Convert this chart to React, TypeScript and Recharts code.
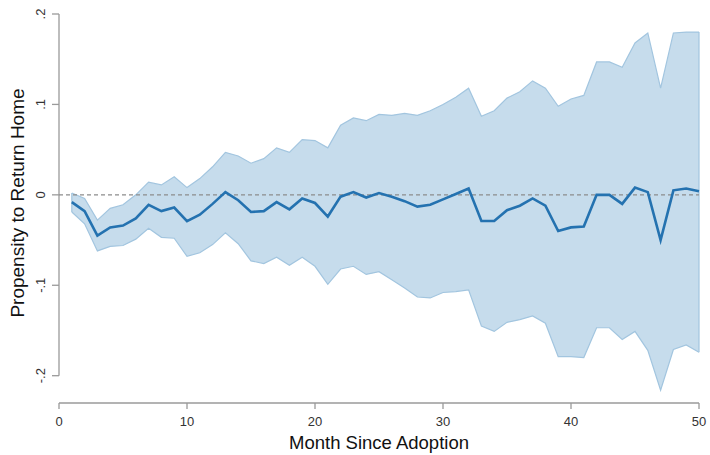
import React from 'react';
import { ComposedChart, Area, Line, XAxis, YAxis, ReferenceLine } from 'recharts';

const months = [1,2,3,4,5,6,7,8,9,10,11,12,13,14,15,16,17,18,19,20,21,22,23,24,25,26,27,28,29,30,31,32,33,34,35,36,37,38,39,40,41,42,43,44,45,46,47,48,49,50];

const estimate = [-0.008,-0.018,-0.045,-0.036,-0.034,-0.026,-0.011,-0.018,-0.014,-0.029,-0.022,-0.010,0.003,-0.006,-0.019,-0.018,-0.008,-0.016,-0.004,-0.009,-0.024,-0.002,0.003,-0.003,0.002,-0.002,-0.007,-0.013,-0.011,-0.005,0.001,0.007,-0.029,-0.029,-0.017,-0.012,-0.004,-0.012,-0.040,-0.036,-0.035,0.000,0.000,-0.010,0.008,0.003,-0.050,0.005,0.007,0.004];

const upper = [0.002,-0.004,-0.028,-0.015,-0.011,0.000,0.014,0.011,0.020,0.008,0.018,0.031,0.047,0.043,0.035,0.040,0.052,0.047,0.061,0.060,0.052,0.077,0.085,0.082,0.089,0.088,0.090,0.088,0.093,0.100,0.108,0.118,0.087,0.093,0.107,0.114,0.126,0.118,0.098,0.106,0.110,0.147,0.147,0.141,0.168,0.179,0.118,0.179,0.180,0.180];

const lower = [-0.019,-0.032,-0.062,-0.057,-0.056,-0.049,-0.037,-0.047,-0.048,-0.068,-0.064,-0.055,-0.042,-0.054,-0.073,-0.076,-0.069,-0.078,-0.069,-0.079,-0.099,-0.082,-0.079,-0.088,-0.085,-0.094,-0.103,-0.113,-0.114,-0.108,-0.107,-0.105,-0.145,-0.151,-0.141,-0.138,-0.134,-0.142,-0.179,-0.179,-0.180,-0.147,-0.147,-0.160,-0.151,-0.172,-0.216,-0.171,-0.166,-0.174];

const xTicks = [0, 10, 20, 30, 40, 50];
const yTicks = [-0.2, -0.1, 0, 0.1, 0.2];

const data = months.map((m, i) => ({
  m,
  est: estimate[i],
  band: [lower[i], upper[i]],
}));

const FONT = '"Liberation Sans", Arial, sans-serif';
const AXIS = '#9a9a9a';
const BAND_FILL = '#c6dcec';
const BAND_EDGE = '#a2c5df';
const LINE = '#2472b0';

const fmtY = (v: number) => {
  if (v === 0) return '0';
  const s = Math.abs(v).toString().replace(/^0\./, '.');
  return v < 0 ? '-' + s : s;
};

const YTick = (props: any) => {
  const { x, y, payload } = props;
  const tx = x - 5;
  return (
    <text x={tx} y={y} transform={`rotate(-90, ${tx}, ${y})`} textAnchor="middle"
      fontSize={13} fontFamily={FONT} fill="#333">
      {fmtY(payload.value)}
    </text>
  );
};

const YTitle = () => (
  <text x={24} y={203} transform="rotate(-90, 24, 203)" textAnchor="middle"
    fontSize={19} fontFamily={FONT} fill="#111">
    Propensity to Return Home
  </text>
);

const first = data[0];
const last = data[data.length - 1];

export default function App() {
  return (
    <div style={{ position: 'absolute', left: 0, top: 0, width: 710, height: 455, background: '#fff' }}>
      <ComposedChart width={710} height={455} data={data}
        margin={{ top: 14, right: 11, bottom: 0, left: 0 }}>
        <XAxis dataKey="m" type="number" domain={[0, 50]} ticks={xTicks}
          height={52} tickSize={6} tickMargin={8}
          axisLine={{ stroke: AXIS, strokeWidth: 1.3 }}
          tickLine={{ stroke: AXIS, strokeWidth: 1.3 }}
          tick={{ fontSize: 13, fontFamily: FONT, fill: '#333' }}
          label={{ value: 'Month Since Adoption', position: 'insideBottom', offset: 6,
            style: { fontSize: 18.5, fontFamily: FONT, fill: '#111' } }} />
        <YAxis type="number" domain={[-0.2302, 0.2]} ticks={yTicks} width={59}
          allowDataOverflow
          tickSize={7} tickMargin={2}
          axisLine={false}
          tickLine={{ stroke: AXIS, strokeWidth: 1.3 }}
          tick={<YTick />}
          label={{ content: () => <YTitle /> }} />
        <ReferenceLine segment={[{ x: 0, y: yTicks[0] }, { x: 0, y: yTicks[yTicks.length - 1] }]}
          stroke={AXIS} strokeWidth={1.3} ifOverflow="visible" />
        <Area dataKey="band" type="linear" fill={BAND_FILL} fillOpacity={1}
          stroke={BAND_EDGE} strokeWidth={1.2} isAnimationActive={false} />
        <ReferenceLine segment={[{ x: first.m, y: first.band[0] }, { x: first.m, y: first.band[1] }]}
          stroke={BAND_EDGE} strokeWidth={1.2} ifOverflow="visible" />
        <ReferenceLine segment={[{ x: last.m, y: last.band[0] }, { x: last.m, y: last.band[1] }]}
          stroke={BAND_EDGE} strokeWidth={1.2} ifOverflow="visible" />
        <ReferenceLine y={0} stroke="#8c8c8c" strokeWidth={1.4} strokeDasharray="4 3" />
        <Line dataKey="est" type="linear" stroke={LINE} strokeWidth={2.6} dot={false}
          isAnimationActive={false} />
      </ComposedChart>
    </div>
  );
}
